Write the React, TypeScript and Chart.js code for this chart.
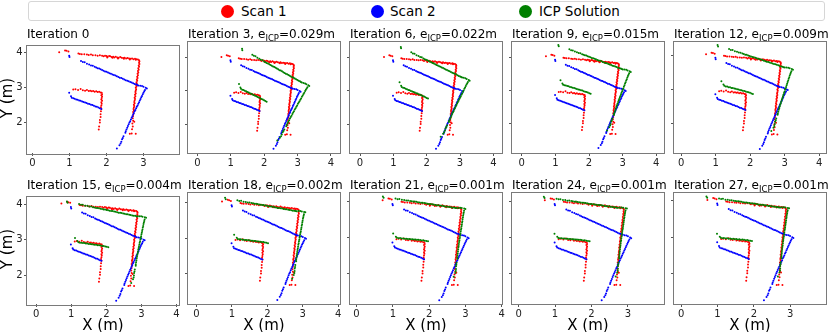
import React, { useEffect, useRef } from 'react';
import { Chart, registerables } from 'chart.js';

Chart.register(...registerables);

// Scan 1 (red), points in metres
const scan1Points: number[][] = [
  [0.72, 4.02], [0.88, 4.07], [0.92, 4.06], [0.97, 4.04],
  [1.24, 3.98], [1.28, 3.97], [1.33, 3.96], [1.40, 3.96], [1.47, 3.95], [1.52, 3.94], [1.58, 3.95],
  [1.63, 3.93], [1.70, 3.93], [1.76, 3.92], [1.82, 3.93],
  [1.88, 3.92], [1.92, 3.90], [1.96, 3.92], [2.00, 3.91], [2.03, 3.89], [2.07, 3.91], [2.10, 3.90],
  [2.14, 3.88], [2.18, 3.89], [2.21, 3.87], [2.25, 3.89], [2.29, 3.87], [2.33, 3.86], [2.37, 3.88],
  [2.41, 3.86], [2.45, 3.85], [2.49, 3.86], [2.53, 3.84], [2.57, 3.85], [2.61, 3.84], [2.65, 3.83],
  [2.69, 3.84], [2.73, 3.82], [2.77, 3.83], [2.81, 3.82], [2.85, 3.81], [2.88, 3.79],
  [2.02, 3.87], [2.16, 3.86], [2.31, 3.84], [2.47, 3.83], [2.63, 3.81], [2.79, 3.80],
  [2.89, 3.76], [2.88, 3.72], [2.89, 3.68], [2.87, 3.64], [2.88, 3.60], [2.86, 3.56], [2.87, 3.52],
  [2.85, 3.48], [2.86, 3.44], [2.84, 3.40], [2.85, 3.36], [2.83, 3.32], [2.84, 3.28], [2.82, 3.24],
  [2.83, 3.20], [2.81, 3.16], [2.82, 3.12], [2.80, 3.08], [2.81, 3.04], [2.79, 3.00], [2.80, 2.96],
  [2.79, 2.92], [2.78, 2.88], [2.79, 2.84], [2.77, 2.80], [2.78, 2.76], [2.76, 2.72], [2.77, 2.68],
  [2.76, 2.64], [2.75, 2.60], [2.76, 2.56], [2.74, 2.52], [2.75, 2.48], [2.74, 2.44], [2.73, 2.40],
  [2.74, 2.36], [2.72, 2.31], [2.73, 2.26], [2.72, 2.20], [2.71, 2.13], [2.72, 2.06], [2.70, 1.98],
  [2.71, 1.90], [2.69, 1.82], [2.75, 2.03],
  [2.63, 1.69], [2.68, 1.70], [2.79, 1.69],
  [1.10, 2.95], [1.16, 2.96], [1.23, 2.94], [1.30, 2.97], [1.36, 2.93], [1.42, 2.92], [1.47, 2.94],
  [1.52, 2.91], [1.56, 2.92], [1.60, 2.90], [1.64, 2.91], [1.68, 2.89], [1.72, 2.90], [1.76, 2.88],
  [1.80, 2.89], [1.84, 2.87], [1.87, 2.86],
  [1.88, 2.82], [1.86, 2.79], [1.88, 2.75], [1.87, 2.71], [1.86, 2.67], [1.88, 2.63], [1.86, 2.59],
  [1.87, 2.55], [1.86, 2.50], [1.85, 2.45], [1.86, 2.40], [1.85, 2.33], [1.84, 2.25], [1.84, 2.17],
  [1.82, 2.08], [1.82, 2.01], [1.80, 1.90], [1.79, 1.81],
];

// Scan 2 (blue), points in metres
const scan2Points: number[][] = [
  [0.99, 3.92], [1.00, 3.88],
  [1.31, 3.77], [1.36, 3.74], [1.41, 3.73], [1.47, 3.69], [1.53, 3.67], [1.58, 3.64], [1.63, 3.63],
  [1.68, 3.60], [1.72, 3.58], [1.76, 3.56], [1.80, 3.55], [1.84, 3.53], [1.88, 3.51], [1.92, 3.49],
  [1.96, 3.47], [2.00, 3.46], [2.04, 3.44], [2.08, 3.42], [2.12, 3.40], [2.16, 3.38], [2.20, 3.37],
  [2.24, 3.35], [2.28, 3.33], [2.32, 3.31], [2.36, 3.29], [2.40, 3.28], [2.44, 3.26], [2.48, 3.24],
  [2.52, 3.22], [2.56, 3.20], [2.60, 3.19], [2.64, 3.17], [2.68, 3.15], [2.72, 3.13], [2.76, 3.11],
  [2.80, 3.10], [2.83, 3.08],
  [2.86, 3.07], [2.91, 3.06], [2.96, 3.05], [3.00, 3.03], [3.06, 3.00], [3.09, 2.98],
  [3.04, 2.94], [3.02, 2.90], [3.00, 2.86], [2.98, 2.82], [2.96, 2.77], [2.94, 2.73], [2.92, 2.68],
  [2.90, 2.64], [2.88, 2.59], [2.86, 2.55], [2.84, 2.50], [2.82, 2.46], [2.80, 2.42], [2.78, 2.37],
  [2.76, 2.33], [2.74, 2.28], [2.72, 2.24], [2.70, 2.19], [2.68, 2.15], [2.66, 2.10], [2.64, 2.05],
  [2.62, 2.01], [2.60, 1.96], [2.58, 1.91], [2.56, 1.86], [2.54, 1.81], [2.52, 1.76], [2.51, 1.72],
  [2.46, 1.62], [2.44, 1.57], [2.42, 1.53], [2.40, 1.46], [2.38, 1.41], [2.35, 1.36], [2.28, 1.27],
  [0.99, 2.86], [1.04, 2.76], [1.06, 2.72], [1.10, 2.70], [1.14, 2.69], [1.18, 2.67], [1.22, 2.66],
  [1.26, 2.64], [1.30, 2.63], [1.34, 2.61], [1.38, 2.60], [1.42, 2.58], [1.46, 2.57], [1.50, 2.55],
  [1.54, 2.54], [1.58, 2.52], [1.62, 2.51], [1.66, 2.49], [1.70, 2.47], [1.74, 2.46], [1.78, 2.44],
  [1.82, 2.42], [1.86, 2.40],
];

// Iterations and ICP error (m)
const iterations = [0, 3, 6, 9, 12, 15, 18, 21, 24, 27];
const icpErrors = ['', '0.029', '0.022', '0.015', '0.009', '0.004', '0.002', '0.001', '0.001', '0.001'];

// Estimated rigid pose of the ICP solution at each iteration (applied to Scan 2)
const poseAngleDeg = [0, -5, -2, 3.5, 6, 12.5, 14, 15.5, 16, 16];
const poseShiftX = [0, 0.26, 0.2, 0.15, 0.15, 0.04, -0.02, -0.09, -0.12, -0.12];
const poseShiftY = [0, 0.17, 0.33, 0.57, 0.59, 0.63, 0.73, 0.79, 0.8, 0.8];
const posePivot = [3.05, 2.99];

// Axis limits of each panel
const xMins = [-0.15, -0.28, -0.3, -0.29, -0.21, -0.26, -0.24, -0.18, -0.18, -0.2];
const xMaxs = [3.96, 4.27, 4.26, 4.23, 4.2, 4.07, 4.05, 4.01, 3.99, 3.99];
const yMins = [1.14, 1.14, 1.14, 1.12, 1.15, 1.18, 1.16, 1.17, 1.17, 1.17];
const yMaxs = [4.21, 4.47, 4.47, 4.45, 4.38, 4.22, 4.26, 4.22, 4.22, 4.21];
const xTickValues = [0, 1, 2, 3, 4];
const yTickValues = [2, 3, 4];

const FONT = "'DejaVu Sans', sans-serif";
const colLeft = [27, 188, 350, 512, 674];
const rowTop = [42, 193];
const PW = 152;
const PH = 111;
const PAD_L = 26;
const PAD_T = 4;
const PAD_R = 8;
const PAD_B = 18;

function icpPoints(k: number) {
  const a = (poseAngleDeg[k] * Math.PI) / 180;
  const c = Math.cos(a);
  const s = Math.sin(a);
  return scan2Points.map(([x, y]) => {
    const dx = x - posePivot[0];
    const dy = y - posePivot[1];
    return {
      x: posePivot[0] + c * dx - s * dy + poseShiftX[k],
      y: posePivot[1] + s * dx + c * dy + poseShiftY[k],
    };
  });
}

const boxPlugin = {
  id: 'frameBox',
  afterDraw(chart: any) {
    const { ctx, chartArea: a } = chart;
    ctx.save();
    ctx.strokeStyle = '#7a7a7a';
    ctx.lineWidth = 1;
    ctx.strokeRect(Math.round(a.left) - 0.5, Math.round(a.top) - 0.5, Math.round(a.right - a.left) + 1, Math.round(a.bottom - a.top) + 1);
    ctx.restore();
  },
};

function Panel({ k }: { k: number }) {
  const ref = useRef<HTMLCanvasElement>(null);
  const col = k % 5;
  const row = Math.floor(k / 5);
  useEffect(() => {
    if (!ref.current) return;
    const datasets: any[] = [];
    if (k > 0) {
      datasets.push({ label: 'ICP Solution', data: icpPoints(k), backgroundColor: '#008000', order: 0 });
    }
    datasets.push({ label: 'Scan 2', data: scan2Points.map(([x, y]) => ({ x, y })), backgroundColor: '#0000ff', order: 1 });
    datasets.push({ label: 'Scan 1', data: scan1Points.map(([x, y]) => ({ x, y })), backgroundColor: '#ff0000', order: 2 });
    const chart = new Chart(ref.current, {
      type: 'scatter',
      data: { datasets },
      options: {
        animation: false,
        responsive: false,
        devicePixelRatio: 1,
        events: [],
        layout: { padding: { top: PAD_T, right: PAD_R, left: 0, bottom: 0 } },
        plugins: { legend: { display: false }, tooltip: { enabled: false }, title: { display: false } },
        elements: { point: { radius: 1.0, borderWidth: 0, hoverRadius: 1.0 } },
        scales: {
          x: {
            type: 'linear',
            min: xMins[k],
            max: xMaxs[k],
            afterBuildTicks: (s: any) => {
              s.ticks = xTickValues.filter((v) => v >= s.min && v <= s.max).map((v) => ({ value: v }));
            },
            afterFit: (s: any) => {
              s.height = PAD_B;
            },
            grid: { display: true, drawOnChartArea: false, drawTicks: true, tickLength: 3, color: '#555' },
            border: { display: false },
            ticks: { font: { family: FONT, size: 10 }, color: '#222', padding: 1, maxRotation: 0, autoSkip: false },
          },
          y: {
            type: 'linear',
            min: yMins[k],
            max: yMaxs[k],
            afterBuildTicks: (s: any) => {
              s.ticks = yTickValues.filter((v) => v >= s.min && v <= s.max).map((v) => ({ value: v }));
            },
            afterFit: (s: any) => {
              s.width = PAD_L;
            },
            grid: { display: true, drawOnChartArea: false, drawTicks: true, tickLength: 3, color: '#555' },
            border: { display: false },
            ticks: { display: col === 0, font: { family: FONT, size: 10 }, color: '#222', padding: 1.5, autoSkip: false },
          },
        },
      } as any,
      plugins: [boxPlugin],
    });
    return () => chart.destroy();
  }, [k, col]);
  const w = PAD_L + PW + PAD_R;
  const h = PAD_T + PH + PAD_B;
  return (
    <canvas
      ref={ref}
      width={w}
      height={h}
      style={{ position: 'absolute', left: colLeft[col] - PAD_L, top: rowTop[row] - PAD_T, width: w, height: h }}
    />
  );
}

function Title({ k }: { k: number }) {
  const col = k % 5;
  const row = Math.floor(k / 5);
  return (
    <div
      style={{
        position: 'absolute',
        left: colLeft[col],
        top: rowTop[row] - 15,
        fontFamily: FONT,
        fontSize: 12,
        lineHeight: '14px',
        whiteSpace: 'nowrap',
        color: '#000',
      }}
    >
      {`Iteration ${iterations[k]}`}
      {k > 0 ? (
        <>
          {', e'}
          <span style={{ fontSize: 8.5, position: 'relative', top: 2.5 }}>ICP</span>
          {`=${icpErrors[k]}m`}
        </>
      ) : null}
    </div>
  );
}

const legendItems = [
  { label: 'Scan 1', color: '#ff0000', cx: 227, tx: 241 },
  { label: 'Scan 2', color: '#0000ff', cx: 377, tx: 390 },
  { label: 'ICP Solution', color: '#008000', cx: 525, tx: 539 },
];

export default function App() {
  const panels = iterations.map((_, k) => k);
  return (
    <div style={{ position: 'fixed', left: 0, top: 0, width: 830, height: 332, background: '#fff', overflow: 'hidden' }}>
      <div
        style={{
          position: 'absolute',
          left: 28,
          top: 1,
          width: 797,
          height: 20,
          border: '1px solid #d6d6d6',
          borderRadius: 3,
          boxSizing: 'border-box',
        }}
      />
      {legendItems.map((it) => (
        <React.Fragment key={it.label}>
          <div
            style={{
              position: 'absolute',
              left: it.cx - 6.5,
              top: 11 - 6.5,
              width: 13,
              height: 13,
              borderRadius: '50%',
              background: it.color,
            }}
          />
          <div
            style={{
              position: 'absolute',
              left: it.tx,
              top: 3,
              fontFamily: FONT,
              fontSize: 13.5,
              lineHeight: '16px',
              whiteSpace: 'nowrap',
              color: '#000',
            }}
          >
            {it.label}
          </div>
        </React.Fragment>
      ))}
      {panels.map((k) => (
        <Panel key={`p${k}`} k={k} />
      ))}
      {panels.map((k) => (
        <Title key={`t${k}`} k={k} />
      ))}
      {rowTop.map((t, r) => (
        <div
          key={`yl${r}`}
          style={{
            position: 'absolute',
            left: 7,
            top: t + PH / 2,
            transform: 'translate(-50%, -50%) rotate(-90deg)',
            fontFamily: FONT,
            fontSize: 15,
            lineHeight: '17px',
            whiteSpace: 'nowrap',
          }}
        >
          Y (m)
        </div>
      ))}
      {colLeft.map((l, c) => (
        <div
          key={`xl${c}`}
          style={{
            position: 'absolute',
            left: l + PW / 2,
            top: 325,
            transform: 'translate(-50%, -50%)',
            fontFamily: FONT,
            fontSize: 15,
            lineHeight: '17px',
            whiteSpace: 'nowrap',
          }}
        >
          X (m)
        </div>
      ))}
    </div>
  );
}
